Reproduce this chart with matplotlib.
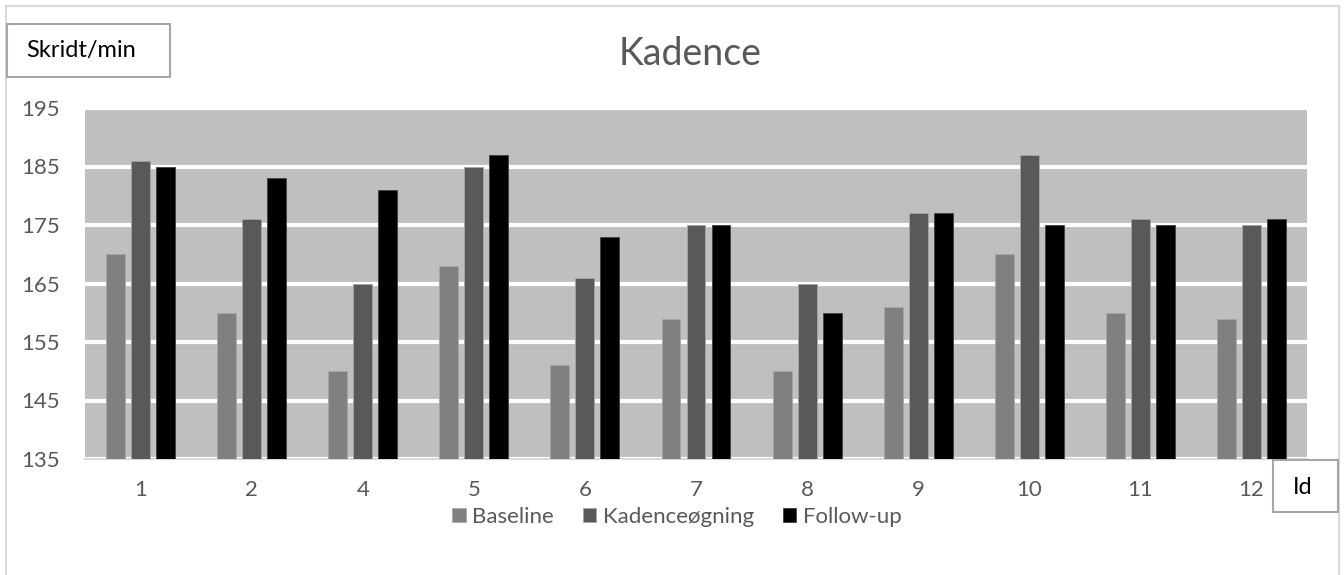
"""Kadence bar chart (Baseline / Kadenceøgning / Follow-up) per Id."""

import matplotlib
matplotlib.use("Agg")
import matplotlib.pyplot as plt
import numpy as np
from matplotlib.patches import Rectangle

# ---------------------------------------------------------------------------
# Data
# ---------------------------------------------------------------------------
ids = ["1", "2", "4", "5", "6", "7", "8", "9", "10", "11", "12"]
baseline = [170, 160, 150, 168, 151, 159, 150, 161, 170, 160, 159]
kadenceoegning = [186, 176, 165, 185, 166, 175, 165, 177, 187, 176, 175]
follow_up = [185, 183, 181, 187, 173, 175, 160, 177, 175, 175, 176]

series_names = ["Baseline", "Kadenceøgning", "Follow-up"]
series_colors = ["#808080", "#595959", "#000000"]
y_ticks = [135, 145, 155, 165, 175, 185, 195]

TEXT_COLOR = "#595959"
FONT = ["Lato", "DejaVu Sans"]

# ---------------------------------------------------------------------------
# Plot
# ---------------------------------------------------------------------------
plt.rcParams["font.family"] = FONT

fig = plt.figure(figsize=(13.44, 5.75), dpi=100)
W, H = 1344, 575

# plot area in pixels: left 85, right 1307, top 108, bottom 459
ax = fig.add_axes([85 / W, 1 - 459 / H, (1307 - 85) / W, (459 - 108) / H])
ax.set_facecolor("#BFBFBF")

x = np.arange(len(ids))
width = 0.17
offset = 0.225
for i, (vals, name, col) in enumerate(zip([baseline, kadenceoegning, follow_up],
                                          series_names, series_colors)):
    ax.bar(x + (i - 1) * offset, np.array(vals) - y_ticks[0], width,
           bottom=y_ticks[0], color=col, edgecolor="#A6A6A6" if i < 2 else "#404040",
           linewidth=0.6, label=name, zorder=3)

ax.set_xlim(-0.5, len(ids) - 0.5)
ax.set_ylim(y_ticks[0], y_ticks[-1])
ax.set_yticks(y_ticks)
ax.set_xticks(x)
ax.set_xticklabels(ids)
ax.yaxis.grid(True, color="white", linewidth=3, zorder=1)
ax.set_axisbelow(True)
for side in ["top", "right", "left"]:
    ax.spines[side].set_visible(False)
ax.spines["bottom"].set_color("#D9D9D9")
ax.spines["bottom"].set_linewidth(1.5)
ax.tick_params(axis="both", length=0, labelsize=16, colors=TEXT_COLOR)
ax.tick_params(axis="y", pad=18)
ax.tick_params(axis="x", pad=15)

# Title
fig.text(690 / W, 1 - 54 / H, "Kadence", ha="center", va="center",
         fontsize=27, color=TEXT_COLOR)

# Outer chart border
fig.patches.append(Rectangle((6 / W, -0.05), (1339 - 6) / W, 1.05 - 6 / H,
                             transform=fig.transFigure, fill=False,
                             edgecolor="#D9D9D9", linewidth=1.5))

# Axis title boxes
fig.patches.append(Rectangle((7 / W, 1 - 77 / H), (170 - 7) / W, (77 - 24) / H,
                             transform=fig.transFigure, facecolor="white",
                             edgecolor="#A6A6A6", linewidth=1.5))
fig.text(26 / W, 1 - 51 / H, "Skridt/min", ha="left", va="center",
         fontsize=17, color="black")

fig.patches.append(Rectangle((1273 / W, 1 - 512 / H), (1338 - 1273) / W, (512 - 460) / H,
                             transform=fig.transFigure, facecolor="white",
                             edgecolor="#A6A6A6", linewidth=1.5))
fig.text(1303 / W, 1 - 487 / H, "Id", ha="center", va="center",
         fontsize=17, color="black")

# Legend
fig.legend(loc="center", bbox_to_anchor=(677 / W, 1 - 517 / H), ncol=3,
           frameon=False, fontsize=16, labelcolor=TEXT_COLOR,
           handlelength=0.6, handleheight=0.6, handletextpad=0.3,
           columnspacing=1.3)

fig.savefig("out.png", dpi=100)
